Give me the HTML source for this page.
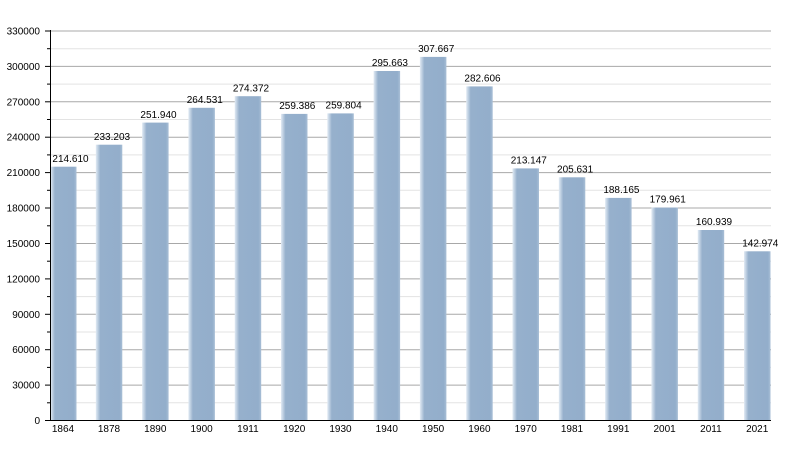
<!DOCTYPE html>
<html><head><meta charset="utf-8"><style>
html,body{margin:0;padding:0;background:#fff;}
svg{display:block;}
text{font-family:"Liberation Sans",Arial,sans-serif;font-size:10px;fill:#000;}
</style></head><body>
<svg width="800" height="450" viewBox="0 0 800 450" xmlns="http://www.w3.org/2000/svg">
<defs>
<linearGradient id="bg" x1="0" x2="1" y1="0" y2="0">
<stop offset="0" stop-color="#e2ebf4"/>
<stop offset="0.17" stop-color="#96b0cc"/>
<stop offset="0.9" stop-color="#93aecb"/>
<stop offset="1" stop-color="#a9bfd6"/>
</linearGradient>
</defs>
<g id="grid">
<g stroke="#e3e3e3" stroke-width="1">
<line x1="50" x2="771" y1="402.8" y2="402.8"/>
<line x1="50" x2="771" y1="367.4" y2="367.4"/>
<line x1="50" x2="771" y1="332.0" y2="332.0"/>
<line x1="50" x2="771" y1="296.6" y2="296.6"/>
<line x1="50" x2="771" y1="261.2" y2="261.2"/>
<line x1="50" x2="771" y1="225.8" y2="225.8"/>
<line x1="50" x2="771" y1="190.3" y2="190.3"/>
<line x1="50" x2="771" y1="154.9" y2="154.9"/>
<line x1="50" x2="771" y1="119.5" y2="119.5"/>
<line x1="50" x2="771" y1="84.1" y2="84.1"/>
<line x1="50" x2="771" y1="48.7" y2="48.7"/>
</g>
<g stroke="#a8a8a8" stroke-width="1">
<line x1="50" x2="771" y1="385.1" y2="385.1"/>
<line x1="50" x2="771" y1="349.7" y2="349.7"/>
<line x1="50" x2="771" y1="314.3" y2="314.3"/>
<line x1="50" x2="771" y1="278.9" y2="278.9"/>
<line x1="50" x2="771" y1="243.5" y2="243.5"/>
<line x1="50" x2="771" y1="208.0" y2="208.0"/>
<line x1="50" x2="771" y1="172.6" y2="172.6"/>
<line x1="50" x2="771" y1="137.2" y2="137.2"/>
<line x1="50" x2="771" y1="101.8" y2="101.8"/>
<line x1="50" x2="771" y1="66.4" y2="66.4"/>
<line x1="50" x2="771" y1="31.0" y2="31.0"/>
</g>
</g>
<g fill="url(#bg)">
<rect x="50.5" y="166.7" width="26" height="253.3"/>
<rect x="95.8" y="144.7" width="26.5" height="275.3"/>
<rect x="142.1" y="122.6" width="26.5" height="297.4"/>
<rect x="188.4" y="107.8" width="26.5" height="312.2"/>
<rect x="234.7" y="96.2" width="26.5" height="323.8"/>
<rect x="281.0" y="113.9" width="26.5" height="306.1"/>
<rect x="327.3" y="113.4" width="26.5" height="306.6"/>
<rect x="373.6" y="71.0" width="26.5" height="349.0"/>
<rect x="419.9" y="56.9" width="26.5" height="363.1"/>
<rect x="466.2" y="86.4" width="26.5" height="333.6"/>
<rect x="512.5" y="168.4" width="26.5" height="251.6"/>
<rect x="558.8" y="177.3" width="26.5" height="242.7"/>
<rect x="605.1" y="197.9" width="26.5" height="222.1"/>
<rect x="651.4" y="207.6" width="26.5" height="212.4"/>
<rect x="697.7" y="230.0" width="26.5" height="190.0"/>
<rect x="744.0" y="251.3" width="26.5" height="168.7"/>
</g>
<g text-anchor="middle">
<text x="70.5" y="162">214.610</text>
<text x="112" y="140">233.203</text>
<text x="158.5" y="118">251.940</text>
<text x="204.8" y="103">264.531</text>
<text x="251" y="91.5">274.372</text>
<text x="297.3" y="109">259.386</text>
<text x="343.6" y="108.5">259.804</text>
<text x="389.9" y="66">295.663</text>
<text x="436.2" y="52">307.667</text>
<text x="482.5" y="81.5">282.606</text>
<text x="528.8" y="163.5">213.147</text>
<text x="575.1" y="172.5">205.631</text>
<text x="621.4" y="193">188.165</text>
<text x="667.7" y="202.5">179.961</text>
<text x="714" y="225">160.939</text>
<text x="760.3" y="246.5">142.974</text>
</g>
<g stroke="#000" stroke-width="1">
<line x1="50.5" x2="50.5" y1="30" y2="421"/>
<line x1="45" x2="771" y1="420.5" y2="420.5"/>
<g>
<line x1="45" x2="50" y1="385.1" y2="385.1"/>
<line x1="45" x2="50" y1="349.7" y2="349.7"/>
<line x1="45" x2="50" y1="314.3" y2="314.3"/>
<line x1="45" x2="50" y1="278.9" y2="278.9"/>
<line x1="45" x2="50" y1="243.5" y2="243.5"/>
<line x1="45" x2="50" y1="208.0" y2="208.0"/>
<line x1="45" x2="50" y1="172.6" y2="172.6"/>
<line x1="45" x2="50" y1="137.2" y2="137.2"/>
<line x1="45" x2="50" y1="101.8" y2="101.8"/>
<line x1="45" x2="50" y1="66.4" y2="66.4"/>
<line x1="45" x2="50" y1="31.0" y2="31.0"/>
</g>
<g>
<line x1="47" x2="50" y1="402.8" y2="402.8"/>
<line x1="47" x2="50" y1="367.4" y2="367.4"/>
<line x1="47" x2="50" y1="332.0" y2="332.0"/>
<line x1="47" x2="50" y1="296.6" y2="296.6"/>
<line x1="47" x2="50" y1="261.2" y2="261.2"/>
<line x1="47" x2="50" y1="225.8" y2="225.8"/>
<line x1="47" x2="50" y1="190.3" y2="190.3"/>
<line x1="47" x2="50" y1="154.9" y2="154.9"/>
<line x1="47" x2="50" y1="119.5" y2="119.5"/>
<line x1="47" x2="50" y1="84.1" y2="84.1"/>
<line x1="47" x2="50" y1="48.7" y2="48.7"/>
</g>
</g>
<g text-anchor="end">
<text x="40" y="424">0</text>
<text x="40" y="388.6">30000</text>
<text x="40" y="353.2">60000</text>
<text x="40" y="317.8">90000</text>
<text x="40" y="282.4">120000</text>
<text x="40" y="247">150000</text>
<text x="40" y="211.5">180000</text>
<text x="40" y="176.1">210000</text>
<text x="40" y="140.7">240000</text>
<text x="40" y="105.3">270000</text>
<text x="40" y="69.9">300000</text>
<text x="40" y="34.5">330000</text>
</g>
<g text-anchor="middle">
<text x="63" y="432">1864</text>
<text x="109" y="432">1878</text>
<text x="155.3" y="432">1890</text>
<text x="201.6" y="432">1900</text>
<text x="247.9" y="432">1911</text>
<text x="294.2" y="432">1920</text>
<text x="340.5" y="432">1930</text>
<text x="386.8" y="432">1940</text>
<text x="433.1" y="432">1950</text>
<text x="479.4" y="432">1960</text>
<text x="525.7" y="432">1970</text>
<text x="572" y="432">1981</text>
<text x="618.3" y="432">1991</text>
<text x="664.6" y="432">2001</text>
<text x="710.9" y="432">2011</text>
<text x="757.2" y="432">2021</text>
</g>
</svg>
</body></html>
